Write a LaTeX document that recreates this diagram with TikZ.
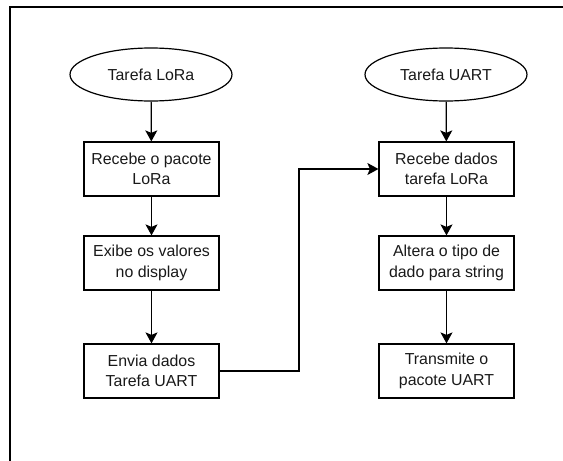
\documentclass[tikz,border=0pt]{standalone}
\usepackage{fontspec}
\setmainfont{Liberation Sans}
\usetikzlibrary{shapes.geometric,arrows.meta}
\begin{document}
\begin{tikzpicture}[x=1pt,y=-1pt,
  every node/.style={font=\fontsize{15.9}{20.6}\selectfont, line width=1.2pt, text=black!90},
  term/.style={draw, ellipse, minimum width=162pt, minimum height=53pt, inner sep=0pt},
  proc/.style={draw, rectangle, minimum width=135pt, minimum height=54pt, inner sep=0pt, align=center},
  arr/.style={line width=1.2pt, -{Stealth[length=11pt,width=12pt,inset=2.5pt]}},
  frame/.style={line width=1.4pt}]
\useasboundingbox (0,0) rectangle (563,461);
\draw[frame] (10,461) -- (10,7) -- (563,7);
\node[term] (t1) at (151,74.5) {Tarefa LoRa};
\node[proc] (a1) at (151.5,169) {Recebe o pacote\\LoRa};
\node[proc] (a2) at (151.5,263) {Exibe os valores\\no display};
\node[proc] (a3) at (151.5,371) {Envia dados\\Tarefa UART};
\node[term] (t2) at (446,74.5) {Tarefa UART};
\node[proc] (b1) at (446.5,169) {Recebe dados\\tarefa LoRa};
\node[proc] (b2) at (446.5,263) {Altera o tipo de\\dado para string};
\node[proc] (b3) at (446.5,371) {Transmite o\\pacote UART};
\coordinate (bend) at (299,371);
\draw[arr] (t1) -- (a1);
\draw[arr] (a1) -- (a2);
\draw[arr] (a2) -- (a3);
\draw[arr] (t2) -- (b1);
\draw[arr] (b1) -- (b2);
\draw[arr] (b2) -- (b3);
\draw[arr] (a3.east) -- (bend) |- (b1.west);
\end{tikzpicture}
\end{document}
